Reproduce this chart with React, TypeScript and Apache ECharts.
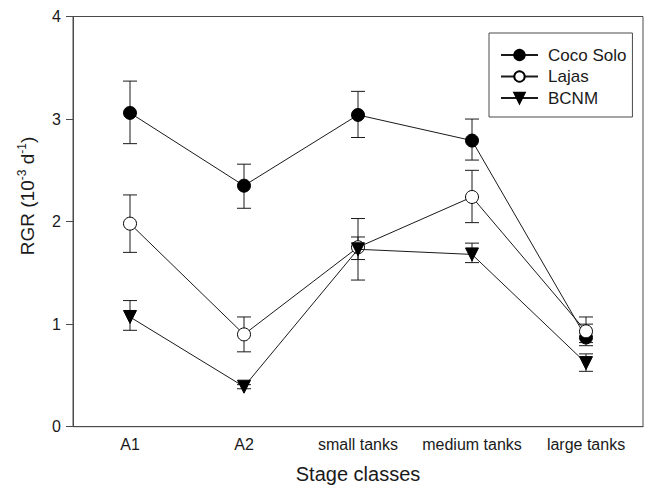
import React, { useEffect, useRef } from "react";
import * as echarts from "echarts";

const categories = ["A1", "A2", "small tanks", "medium tanks", "large tanks"];
const yTicks = [0, 1, 2, 3, 4];

const cocoSolo = [3.06, 2.35, 3.04, 2.79, 0.87];
const cocoSoloLow = [2.76, 2.13, 2.82, 2.6, 0.79];
const cocoSoloHigh = [3.37, 2.56, 3.27, 3.0, 1.0];

const lajas = [1.98, 0.9, 1.75, 2.24, 0.93];
const lajasLow = [1.7, 0.73, 1.43, 1.99, 0.82];
const lajasHigh = [2.26, 1.07, 2.03, 2.5, 1.07];

const bcnm = [1.07, 0.39, 1.73, 1.68, 0.62];
const bcnmLow = [0.94, 0.37, 1.63, 1.6, 0.54];
const bcnmHigh = [1.23, 0.41, 1.85, 1.79, 0.71];

const FONT = "Liberation Sans, Arial, sans-serif";
const INK = "#1a1a1a";
const AXIS = "#4a4a4a";

function errorSeries(name: string, low: number[], high: number[]) {
  return {
    type: "custom",
    name: name + " err",
    silent: true,
    z: 1,
    encode: { x: 0, y: [1, 2] },
    data: low.map((l, i) => [i, l, high[i]]),
    renderItem: (params: any, api: any) => {
      const x = api.value(0);
      const lo = api.coord([x, api.value(1)]);
      const hi = api.coord([x, api.value(2)]);
      const hw = 7;
      const style = { stroke: INK, lineWidth: 1 };
      return {
        type: "group",
        children: [
          { type: "line", shape: { x1: lo[0], y1: lo[1], x2: hi[0], y2: hi[1] }, style },
          { type: "line", shape: { x1: hi[0] - hw, y1: hi[1], x2: hi[0] + hw, y2: hi[1] }, style },
          { type: "line", shape: { x1: lo[0] - hw, y1: lo[1], x2: lo[0] + hw, y2: lo[1] }, style },
        ],
      };
    },
  };
}

export default function App() {
  const ref = useRef<HTMLDivElement>(null);
  useEffect(() => {
    if (!ref.current) return;
    const chart = echarts.init(ref.current, undefined, { renderer: "svg" });
    chart.setOption({
      animation: false,
      backgroundColor: "#ffffff",
      textStyle: { fontFamily: FONT },
      grid: {
        left: 73,
        right: 2,
        top: 16.5,
        bottom: 66.3,
        show: true,
        borderColor: AXIS,
        borderWidth: 1,
      },
      legend: {
        orient: "vertical",
        left: 489,
        top: 33,
        borderColor: AXIS,
        borderWidth: 1,
        padding: [13.5, 6, 10.5, 11],
        itemWidth: 37,
        itemHeight: 13,
        itemGap: 4.5,
        textStyle: {
          fontFamily: FONT,
          fontSize: 17,
          lineHeight: 14,
          color: INK,
          padding: [0, 0, 0, 5],
        },
        data: ["Coco Solo", "Lajas", "BCNM"],
      },
      xAxis: {
        type: "category",
        data: categories,
        boundaryGap: true,
        name: "Stage classes",
        nameLocation: "middle",
        nameGap: 37,
        nameTextStyle: { fontFamily: FONT, fontSize: 20, color: INK },
        axisLine: { lineStyle: { color: AXIS, width: 1 } },
        axisTick: { alignWithLabel: true, length: 6, lineStyle: { color: AXIS } },
        axisLabel: { interval: 0, margin: 10, fontFamily: FONT, fontSize: 16, color: INK },
        splitLine: { show: false },
      },
      yAxis: {
        type: "value",
        min: yTicks[0],
        max: yTicks[yTicks.length - 1],
        interval: 1,
        axisLine: { show: true, lineStyle: { color: AXIS, width: 1 } },
        axisTick: { show: true, length: 7, lineStyle: { color: AXIS } },
        axisLabel: { margin: 12, fontFamily: FONT, fontSize: 16, color: INK },
        splitLine: { show: false },
      },
      graphic: [
        {
          type: "text",
          x: 27,
          y: 196,
          rotation: Math.PI / 2,
          style: {
            text: "{a|RGR (10}{s|-3}{a| d}{s|-1}{a|)}",
            align: "center",
            verticalAlign: "middle",
            fill: INK,
            rich: {
              a: { fontFamily: FONT, fontSize: 19, lineHeight: 22, fill: INK },
              s: { fontFamily: FONT, fontSize: 12, lineHeight: 12, verticalAlign: "top", fill: INK },
            },
          },
        },
      ],
      series: [
        errorSeries("Coco Solo", cocoSoloLow, cocoSoloHigh),
        errorSeries("Lajas", lajasLow, lajasHigh),
        errorSeries("BCNM", bcnmLow, bcnmHigh),
        {
          type: "line",
          name: "Coco Solo",
          data: cocoSolo,
          z: 3,
          symbol: "circle",
          symbolSize: 13,
          lineStyle: { color: INK, width: 1 },
          itemStyle: { color: "#000000", borderColor: "#000000", borderWidth: 1 },
        },
        {
          type: "line",
          name: "Lajas",
          data: lajas,
          z: 4,
          symbol: "circle",
          symbolSize: 13,
          lineStyle: { color: INK, width: 1 },
          itemStyle: { color: "#ffffff", borderColor: "#000000", borderWidth: 1 },
        },
        {
          type: "line",
          name: "BCNM",
          data: bcnm,
          z: 5,
          symbol: "triangle",
          symbolRotate: 180,
          symbolSize: 13,
          lineStyle: { color: INK, width: 1 },
          itemStyle: { color: "#000000", borderColor: "#000000", borderWidth: 1 },
        },
      ],
    });
    return () => chart.dispose();
  }, []);
  return (
    <div
      ref={ref}
      style={{ position: "fixed", left: 0, top: 0, width: 645, height: 493, background: "#fff" }}
    />
  );
}
